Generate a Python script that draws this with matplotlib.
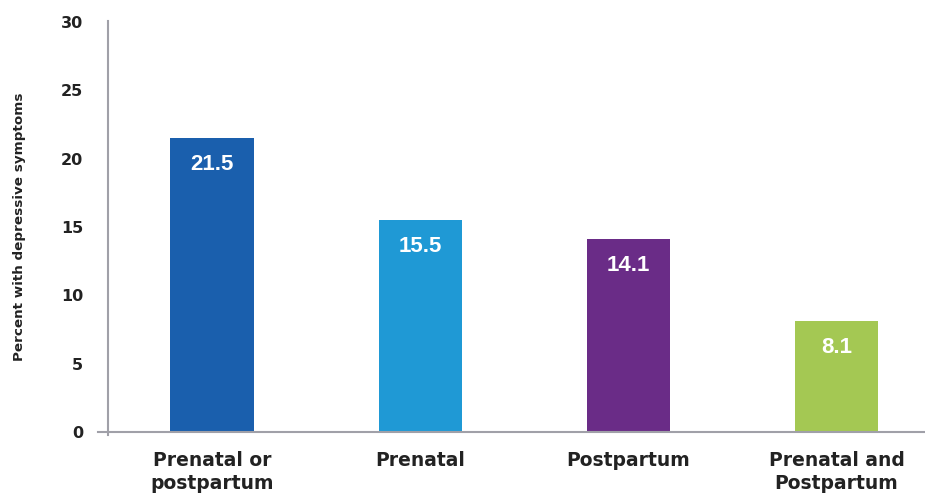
import matplotlib
matplotlib.use('Agg')
import matplotlib.pyplot as plt

categorias = ['Prenatal or\npostpartum', 'Prenatal', 'Postpartum', 'Prenatal and\nPostpartum']
valores = [21.5, 15.5, 14.1, 8.1]
colores = ['#1a5fad', '#1f99d5', '#6a2c87', '#a4c853']
yticks = [0, 5, 10, 15, 20, 25, 30]

plt.rcParams['font.family'] = ['DejaVu Sans']

fig = plt.figure(figsize=(9.25, 4.93), dpi=100)
ax = fig.add_axes([98 / 925, 61 / 493, 1 - 98 / 925, 410 / 493])

# ejes primero: set_position reinicia los ticks
for s in ['top', 'right']:
    ax.spines[s].set_visible(False)
ax.spines['left'].set_position(('data', -0.5))

x = range(len(categorias))
barras = ax.bar(x, valores, width=0.4, color=colores)

for b, v in zip(barras, valores):
    ax.annotate(f'{v}', (b.get_x() + b.get_width() / 2, v), xytext=(0, -19),
                textcoords='offset points', ha='center', va='center',
                color='white', fontsize=16, fontweight='bold',
                family='Liberation Sans')

ax.set_xlim(-0.548, 3.425)
ax.set_ylim(0, 30)
ax.set_yticks(yticks)
ax.set_yticklabels([str(t) for t in yticks], fontsize=11.5, fontweight='bold', color='#222222')
ax.tick_params(axis='y', length=0, pad=18)
ax.set_xticks(list(x))
ax.set_xticklabels(categorias, fontsize=13.5, fontweight='bold', color='#222222',
                   linespacing=1.25, va='top')
ax.tick_params(axis='x', length=0, pad=14)

for s in ['left', 'bottom']:
    ax.spines[s].set_color('#a0a0a8')
    ax.spines[s].set_linewidth(1.5)
ax.spines['left'].set_bounds(-0.25, 30.1)

ax.set_ylabel('Percent with depressive symptoms', fontsize=9.7, fontweight='bold',
              color='#222222', labelpad=25)

fig.savefig('out.png', dpi=100)
